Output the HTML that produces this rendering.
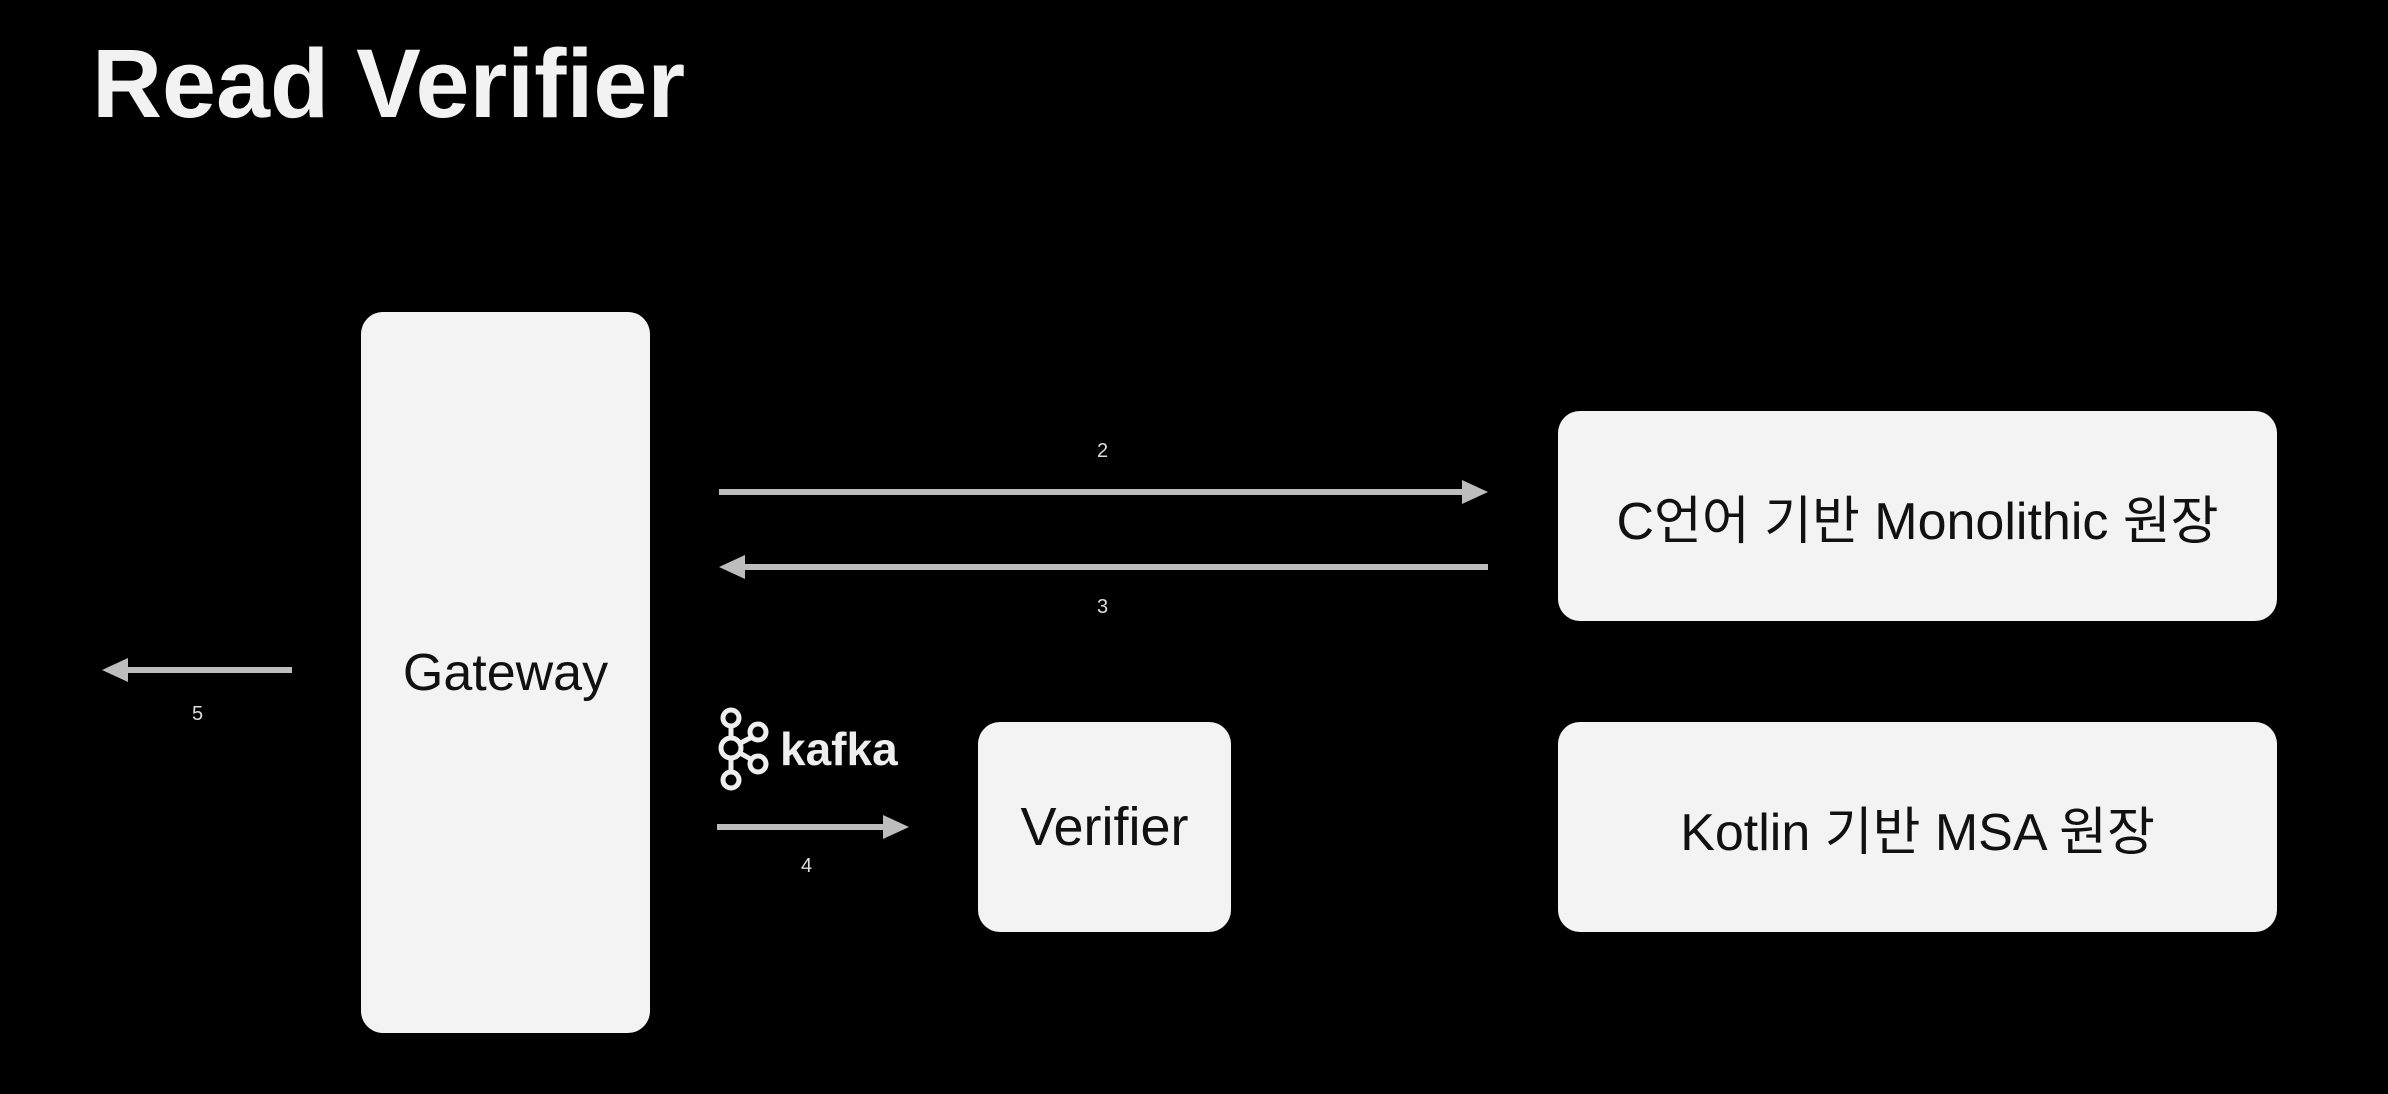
<!DOCTYPE html>
<html><head><meta charset="utf-8"><style>
html,body{margin:0;padding:0;background:#000;}
body{width:2388px;height:1094px;position:relative;overflow:hidden;font-family:"Liberation Sans","Noto Sans CJK KR",sans-serif;}
.t{position:absolute;left:92px;top:28px;font-size:97px;font-weight:bold;color:#f2f2f2;}
.b{position:absolute;background:#f3f3f3;border-radius:22px;display:flex;align-items:center;justify-content:center;color:#111;font-size:52px;}
.l{position:absolute;color:#ddd;font-size:20px;}
</style></head><body>
<div class="t">Read Verifier</div>
<div class="b" style="left:361px;top:312px;width:289px;height:721px;">Gateway</div>
<div class="b" style="left:1558px;top:411px;width:719px;height:210px;">C언어 기반 Monolithic 원장</div>
<div class="b" style="left:1558px;top:722px;width:719px;height:210px;">Kotlin 기반 MSA 원장</div>
<div class="b" style="left:978px;top:722px;width:253px;height:210px;font-size:54px;">Verifier</div>
<svg width="2388" height="1094" style="position:absolute;left:0;top:0">
<g stroke="#bdbdbd" stroke-width="6" fill="#bdbdbd">
<line x1="719" y1="492" x2="1465" y2="492"/><polygon points="1488,492 1462,480 1462,504" stroke="none"/>
<line x1="742" y1="567" x2="1488" y2="567"/><polygon points="719,567 745,555 745,579" stroke="none"/>
<line x1="125" y1="670" x2="292" y2="670"/><polygon points="102,670 128,658 128,682" stroke="none"/>
<line x1="717" y1="827" x2="886" y2="827"/><polygon points="909,827 883,815 883,839" stroke="none"/>
</g>
<g stroke="#eee" stroke-width="5" fill="none">
<line x1="731" y1="722" x2="731" y2="775"/><line x1="731" y1="748" x2="756" y2="735"/><line x1="731" y1="748" x2="756" y2="762"/>
<circle cx="731" cy="718" r="8" fill="#000"/><circle cx="731" cy="748" r="10" fill="#000"/><circle cx="731" cy="780" r="8" fill="#000"/>
<circle cx="758" cy="732" r="8" fill="#000"/><circle cx="758" cy="764" r="8" fill="#000"/>
</g>
<text x="780" y="765" font-family="Liberation Sans" font-size="46" font-weight="bold" fill="#eee">kafka</text>
</svg>
<div class="l" style="left:1097px;top:440px;">2</div>
<div class="l" style="left:1097px;top:596px;">3</div>
<div class="l" style="left:192px;top:703px;">5</div>
<div class="l" style="left:801px;top:855px;">4</div>
</body></html>
